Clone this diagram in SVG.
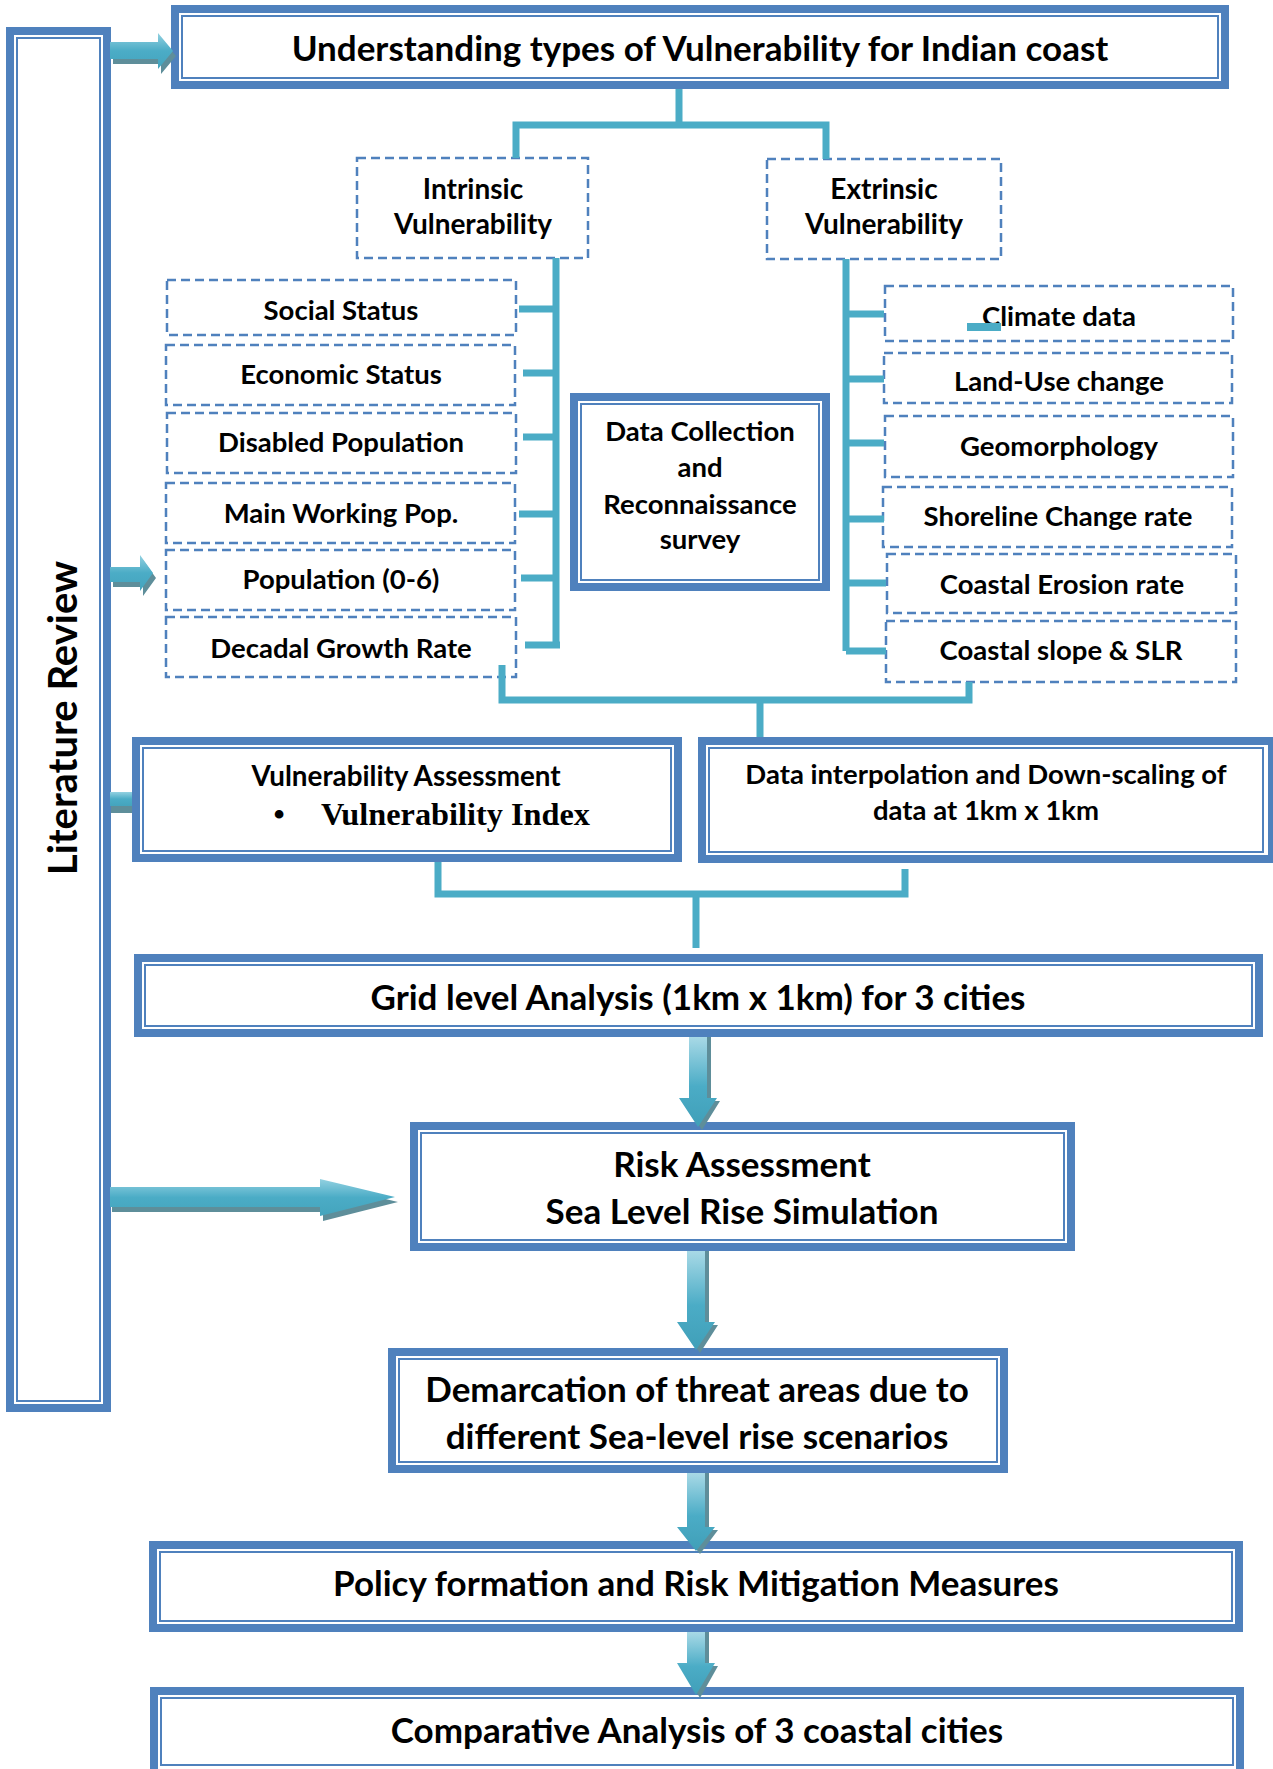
<svg xmlns="http://www.w3.org/2000/svg" width="1273" height="1769" viewBox="0 0 1273 1769">
<defs>
<linearGradient id="gv" x1="0" y1="0" x2="0" y2="1"><stop offset="0" stop-color="#A8D9E6"/><stop offset="0.55" stop-color="#4BACC6"/><stop offset="1" stop-color="#409FB8"/></linearGradient>
<linearGradient id="gh" x1="0" y1="0" x2="0" y2="1"><stop offset="0" stop-color="#93D1E1"/><stop offset="0.5" stop-color="#4BACC6"/><stop offset="1" stop-color="#44A4BD"/></linearGradient>
<style>
.ob{fill:#fff;stroke:#4F81BD;stroke-width:8}
.ib{fill:none;stroke:#4F81BD;stroke-width:2}
.db{fill:#fff;stroke:#4F81BD;stroke-width:2.5;stroke-dasharray:9 5}
.t{font-family:Lato,"Liberation Sans",sans-serif;font-weight:bold;fill:#000;text-anchor:middle}
.s27{font-size:27.5px}
.s31{font-size:35px}
.ln{fill:none;stroke:#4BACC6;stroke-width:7;stroke-linejoin:miter;stroke-linecap:butt}
.sh{fill:#5E8E9A}
.av{fill:url(#gv)}
.ah{fill:url(#gh)}
</style>
</defs>
<rect width="1273" height="1769" fill="#fff"/>

<g id="literature-review">
<rect class="ob" x="10" y="31" width="97" height="1377"/>
<rect class="ib" x="17" y="38" width="83" height="1363"/>
<text class="t" x="77" y="718" font-size="40" transform="rotate(-90 77 718)">Literature Review</text>
</g>

<g id="understanding">
<rect class="ob" x="175" y="9" width="1050" height="76"/>
<rect class="ib" x="182" y="16" width="1036" height="62"/>
<text class="t" x="700" y="61" font-size="35">Understanding types of Vulnerability for Indian coast</text>
</g>

<g id="intrinsic">
<rect class="db" x="357" y="158" width="231" height="100"/>
<text class="t" font-size="28" x="473" y="199">Intrinsic</text>
<text class="t" font-size="28" x="473" y="234">Vulnerability</text>
</g>
<g id="extrinsic">
<rect class="db" x="767" y="159" width="234" height="100"/>
<text class="t" font-size="28" x="884" y="199">Extrinsic</text>
<text class="t" font-size="28" x="884" y="234">Vulnerability</text>
</g>

<g id="social-status"><rect class="db" x="167" y="280" width="349" height="55"/><text class="t s27" x="341" y="320">Social Status</text></g>
<g id="economic-status"><rect class="db" x="166" y="345" width="349" height="60"/><text class="t s27" x="341" y="384">Economic Status</text></g>
<g id="disabled-population"><rect class="db" x="167" y="413" width="349" height="60"/><text class="t s27" x="341" y="452">Disabled Population</text></g>
<g id="main-working-pop"><rect class="db" x="166" y="483" width="349" height="60"/><text class="t s27" x="341" y="523">Main Working Pop.</text></g>
<g id="population-0-6"><rect class="db" x="166" y="550" width="349" height="60"/><text class="t s27" x="341" y="589">Population (0-6)</text></g>
<g id="decadal-growth"><rect class="db" x="166" y="617" width="350" height="60"/><text class="t s27" x="341" y="658">Decadal Growth Rate</text></g>

<g id="climate-data"><rect class="db" x="885" y="286" width="348" height="55"/><text class="t s27" x="1059" y="326">Climate data</text></g>
<g id="land-use"><rect class="db" x="884" y="353" width="348" height="50"/><text class="t s27" x="1059" y="391">Land-Use change</text></g>
<g id="geomorphology"><rect class="db" x="885" y="416" width="348" height="61"/><text class="t s27" x="1059" y="456">Geomorphology</text></g>
<g id="shoreline"><rect class="db" x="883" y="487" width="349" height="60"/><text class="t s27" x="1058" y="526">Shoreline Change rate</text></g>
<g id="coastal-erosion"><rect class="db" x="887" y="554" width="349" height="59"/><text class="t s27" x="1062" y="594">Coastal Erosion rate</text></g>
<g id="coastal-slope"><rect class="db" x="886" y="621" width="350" height="61"/><text class="t s27" x="1061" y="660">Coastal slope &amp; SLR</text></g>

<g id="data-collection">
<rect class="ob" x="574" y="397" width="252" height="190"/>
<rect class="ib" x="581" y="404" width="238" height="176"/>
<text class="t s27" x="700" y="441">Data Collection</text>
<text class="t s27" x="700" y="477">and</text>
<text class="t s27" x="700" y="514">Reconnaissance</text>
<text class="t s27" x="700" y="549">survey</text>
</g>

<g id="vulnerability-assessment">
<rect class="ob" x="136" y="741" width="542" height="117"/>
<rect class="ib" x="143" y="748" width="528" height="103"/>
<text class="t" font-size="27.8" x="406" y="786">Vulnerability Assessment</text>
<text x="279" y="825" font-family="'Liberation Serif',serif" font-weight="bold" font-size="32" text-anchor="middle">•</text>
<text x="321" y="825" font-family="'Liberation Serif',serif" font-weight="bold" font-size="32.3">Vulnerability Index</text>
</g>

<g id="data-interpolation">
<rect class="ob" x="702" y="741" width="570" height="118"/>
<rect class="ib" x="709" y="748" width="554" height="104"/>
<text class="t s27" x="986" y="784">Data interpolation and Down-scaling of</text>
<text class="t s27" x="986" y="820">data at 1km x 1km</text>
</g>

<g id="grid-analysis">
<rect class="ob" x="138" y="958" width="1121" height="75"/>
<rect class="ib" x="145" y="965" width="1107" height="61"/>
<text class="t s31" x="698" y="1010">Grid level Analysis (1km x 1km) for 3 cities</text>
</g>

<g id="risk-assessment">
<rect class="ob" x="414" y="1126" width="657" height="121"/>
<rect class="ib" x="421" y="1133" width="643" height="107"/>
<text class="t s31" x="742" y="1177">Risk Assessment</text>
<text class="t s31" x="742" y="1224">Sea Level Rise Simulation</text>
</g>

<g id="demarcation">
<rect class="ob" x="392" y="1352" width="612" height="117"/>
<rect class="ib" x="399" y="1359" width="598" height="103"/>
<text class="t s31" x="697" y="1402">Demarcation of threat areas due to</text>
<text class="t s31" x="697" y="1449">different Sea-level rise scenarios</text>
</g>

<g id="policy">
<rect class="ob" x="153" y="1545" width="1086" height="83"/>
<rect class="ib" x="160" y="1552" width="1072" height="69"/>
<text class="t s31" x="696" y="1596">Policy formation and Risk Mitigation Measures</text>
</g>

<g id="comparative">
<rect class="ob" x="154" y="1691" width="1086" height="90"/>
<rect class="ib" x="161" y="1698" width="1072" height="67"/>
<text class="t s31" x="697" y="1743">Comparative Analysis of 3 coastal cities</text>
</g>

<g id="connectors">
<path class="ln" d="M679,89 V125 M516,158 V125 H826 V159"/>
<path class="ln" d="M556,258 V645 M519,309 H556 M523,373 H556 M523,437 H556 M519,514 H556 M521,578 H556 M525,645 H560"/>
<path class="ln" d="M846,259 V651 M846,314 H884 M846,379 H884 M846,443 H884 M846,519 H884 M846,583 H886 M846,651 H886"/>
<rect x="967" y="323" width="34" height="8" fill="#4BACC6"/>
<path class="ln" d="M502,665 V700 H969 V682 M760,700 V737"/>
<path class="ln" d="M438,862 V894 H905 V869 M696,894 V948"/>

<path class="sh" d="M113,47 H161 V38 L176,56 L161,74 V64 H113 Z"/>
<path class="ah" d="M110,42 H158 V33 L173,51 L158,69 V59 H110 Z"/>
<path class="sh" d="M113,572 H143 V560 L156,578 L143,596 V587 H113 Z"/>
<path class="ah" d="M110,567 H140 V555 L153,573 L140,591 V582 H110 Z"/>
<rect class="sh" x="111" y="798" width="21" height="15"/>
<rect class="ah" x="110" y="792" width="22" height="14"/>
<path class="sh" d="M112,1192 H323 V1184 L398,1202 L323,1221 V1212 H112 Z"/>
<path class="ah" d="M110,1187 H320 V1179 L395,1197 L320,1216 V1207 H110 Z"/>

<path class="sh" d="M692,1037 H711 V1101 H720 L702,1130 L683,1101 H692 Z"/>
<path class="av" d="M689,1037 H707 V1098 H717 L698,1127 L679,1098 H689 Z"/>
<path class="sh" d="M690,1251 H709 V1325 H718 L700,1353 L681,1325 H690 Z"/>
<path class="av" d="M687,1251 H705 V1322 H715 L696,1350 L677,1322 H687 Z"/>
<path class="sh" d="M690,1473 H709 V1530 H718 L700,1554 L681,1530 H690 Z"/>
<path class="av" d="M687,1473 H705 V1527 H715 L696,1551 L677,1527 H687 Z"/>
<path class="sh" d="M690,1632 H709 V1666 H718 L700,1698 L681,1666 H690 Z"/>
<path class="av" d="M687,1632 H705 V1663 H715 L696,1695 L677,1663 H687 Z"/>
</g>
</svg>
